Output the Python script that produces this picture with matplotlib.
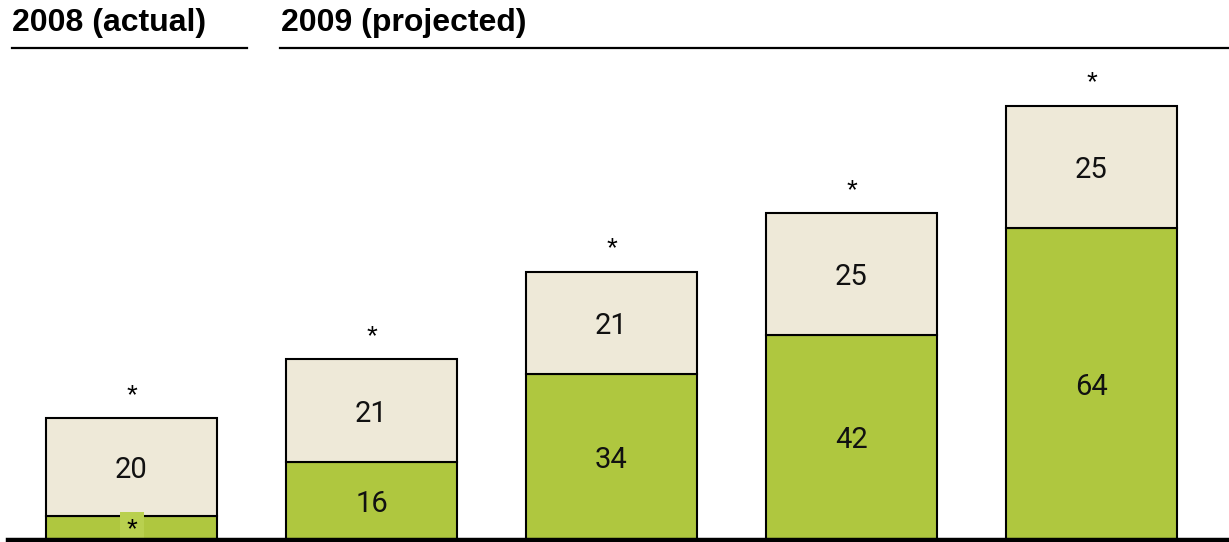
import matplotlib.pyplot as plt
from matplotlib.lines import Line2D
from matplotlib.patches import Rectangle

# stacked values per column: 2008 actual, then 2009 projections
green_vals = [5, 16, 34, 42, 64]
beige_vals = [20, 21, 21, 25, 25]
green_labels = ['*', '16', '34', '42', '64']
beige_labels = ['20', '21', '21', '25', '25']
top_labels = ['*', '*', '*', '*', '*']

green = '#AFC73F'
green_light = '#B9D04F'
beige = '#EEE9D8'

plt.rcParams['font.family'] = ['Liberation Sans', 'DejaVu Sans']

W, H = 1229, 542
fig = plt.figure(figsize=(W / 100, H / 100), dpi=100)
ax = fig.add_axes([0, 2 / H, 1, 480 / H])

x = list(range(len(green_vals)))
bw = 0.7125
ax.bar(x, green_vals, width=bw, color=green, edgecolor='black', linewidth=1.5, zorder=2)
ax.bar(x, beige_vals, width=bw, bottom=green_vals, color=beige, edgecolor='black',
       linewidth=1.5, zorder=2)

num_font = dict(family=['Roboto', 'DejaVu Sans'], fontweight='normal', fontsize=21,
                color='#111111')

for i in x:
    g, b = green_vals[i], beige_vals[i]
    if green_labels[i] == '*':
        # small highlighted tag for the unpublished value
        ax.add_patch(Rectangle((i - 0.05, -1), 0.1, g + 1.8, facecolor=green_light,
                               edgecolor='none', zorder=3, clip_on=False))
        ax.text(i, g / 2 - 0.4, '*', ha='center', va='center', fontsize=20, zorder=4)
    else:
        ax.text(i, g / 2 - 0.6, green_labels[i], ha='center', va='center', zorder=4, **num_font)
    ax.text(i, g + b / 2 - 0.6, beige_labels[i], ha='center', va='center', zorder=4, **num_font)
    ax.annotate(top_labels[i], (i, g + b), xytext=(0, 16), textcoords='offset points',
                ha='center', va='center', fontsize=20)

ax.set_xlim(-131.5 / 240, (W - 131.5) / 240)
ax.set_ylim(0, 480 / 4.88)
ax.axis('off')

# baseline
fig.add_artist(Line2D([8 / W, 1], [2.5 / H, 2.5 / H], color='black', linewidth=3.2))

# period headers with rules underneath
fig.text(12 / W, 1 - 23 / H, '2008 (actual)', fontsize=23, fontweight='bold', va='center')
fig.text(281 / W, 1 - 23 / H, '2009 (projected)', fontsize=23, fontweight='bold', va='center')
fig.add_artist(Line2D([12 / W, 247 / W], [1 - 48 / H] * 2, color='black', linewidth=1.6))
fig.add_artist(Line2D([280 / W, 1], [1 - 48 / H] * 2, color='black', linewidth=1.6))

fig.savefig('out.png', dpi=100)
